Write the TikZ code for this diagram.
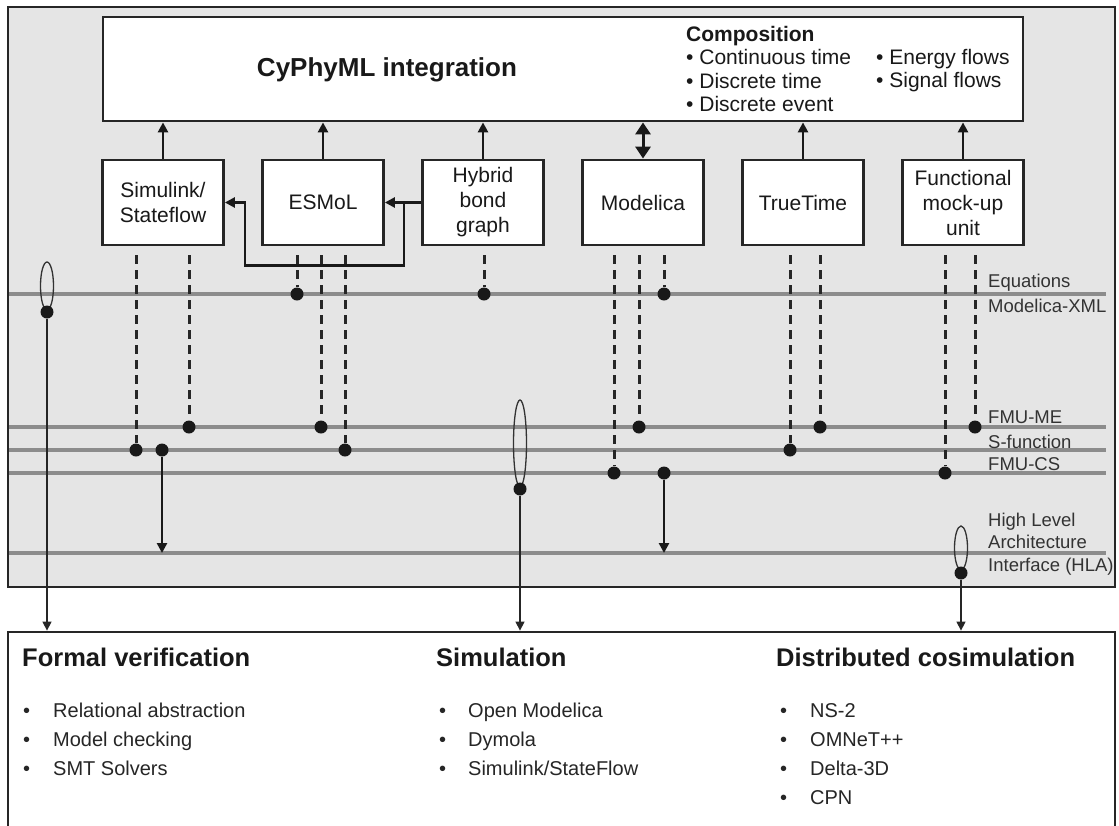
\documentclass[tikz,border=0pt]{standalone}
\usepackage{fontspec}
\setmainfont{Liberation Sans}
\usetikzlibrary{shapes.geometric, arrows.meta, calc}

\begin{document}
\begin{tikzpicture}[
    x=1pt, y=-1pt,
    frame/.style={rectangle, draw=black!85, line width=2.5pt, fill=black!10, inner sep=0},
    mainbox/.style={rectangle, draw=black!85, line width=2.8pt, fill=white, inner sep=0},
    toolbox/.style={rectangle, draw=black!85, line width=2.8pt, fill=white, minimum width=121pt, minimum height=85pt, align=center, inner sep=0, text=black!90, font=\fontsize{21}{25}\selectfont},
    bus/.style={draw=black!45, line width=3.5pt},
    buslabel/.style={anchor=base west, inner sep=0, text=black!80, font=\fontsize{18.5}{22}\selectfont},
    dot/.style={circle, fill=black!90, inner sep=0, minimum size=13pt},
    port/.style={draw=black!85, line width=3pt, dash pattern=on 9pt off 6pt, shorten <=9pt},
    flow/.style={draw=black!90, line width=2.5pt, -{Triangle[length=10pt, width=10pt]}},
    tap/.style={draw=black!85, line width=1.3pt, -{Triangle[length=9pt, width=9pt]}},
    bundle/.style={ellipse, draw=black!80, line width=1.3pt, inner sep=0, minimum width=13pt},
    heading/.style={anchor=base west, inner sep=0, text=black!90, font=\bfseries\fontsize{25.5}{30}\selectfont},
    item/.style={anchor=base west, inner sep=0, text=black!85, font=\fontsize{20}{24}\selectfont}
]
    \useasboundingbox (0,0) rectangle (1119,825);

    % integration frame and the two boxes
    \node[frame, minimum width=1107pt, minimum height=580pt] (frame) at (561.5,297) {};
    \node[mainbox, minimum width=920pt, minimum height=104pt] (cyphy) at (563,69) {};
    \node[mainbox, minimum width=1107pt, minimum height=208pt] (results) at (561.5,736) {};

    \node[inner sep=0, text=black!90, font=\bfseries\fontsize{26}{30}\selectfont] (title) at (387,70) {CyPhyML integration};
    \node[anchor=north west, align=left, inner sep=0, text=black!90, font=\fontsize{21}{23.5}\selectfont] (comp) at (686,26)
        {\textbf{Composition}\\• Continuous time\\• Discrete time\\• Discrete event};
    \node[anchor=north west, align=left, inner sep=0, text=black!90, font=\fontsize{21}{23.5}\selectfont] (flows) at (876,49)
        {• Energy flows\\• Signal flows};

    % modelling tools
    \node[toolbox] (sim) at (163,202.5) {Simulink/\\Stateflow};
    \node[toolbox] (esmol) at (323,202.5) {ESMoL};
    \node[toolbox] (hbg) at (483,202.5) {Hybrid\\bond\\graph};
    \node[toolbox] (modelica) at (643,202.5) {Modelica};
    \node[toolbox] (truetime) at (803,202.5) {TrueTime};
    \node[toolbox] (fmu) at (963,202.5) {Functional\\mock-up\\unit};

    \foreach \b in {sim, esmol, hbg, truetime, fmu}
        \draw[flow] (\b) -- (\b |- cyphy.south);
    \draw[draw=black!90, line width=3pt, {Triangle[length=12pt, width=15pt]}-{Triangle[length=12pt, width=15pt]}]
        (modelica.north) -- (modelica.north |- cyphy.south);

    \coordinate (fork) at ($(hbg.west)+(-17,0)$);
    \draw[flow] (hbg.west) -- (esmol.east);
    \draw[flow] (fork) -- ++(0,63) -| ($(sim.east)+(20,0)$) -- (sim.east);

    % interface buses
    \foreach \n/\y in {eq/294, me/427, sf/450, cs/473, hla/553} {
        \coordinate (\n-l) at (9,\y);
        \coordinate (\n-r) at (1106,\y);
        \draw[bus] (\n-l) -- (\n-r);
    }
    \node[buslabel] (eqlab) at (988,287) {Equations};
    \node[buslabel] (xmllab) at (988,312) {Modelica-XML};
    \node[buslabel] (melab) at (988,423) {FMU-ME};
    \node[buslabel] (sflab) at (988,448) {S-function};
    \node[buslabel] (cslab) at (988,470) {FMU-CS};
    \node[buslabel] (hlalab1) at (988,526) {High Level};
    \node[buslabel] (hlalab2) at (988,548.5) {Architecture};
    \node[buslabel] (hlalab3) at (988,571) {Interface (HLA)};

    % connection points
    \foreach \n/\x in {e1/297, e2/484, e3/664}
        \node[dot] (\n) at (\x,294) {};
    \foreach \n/\x in {m1/189, m2/321, m3/639, m4/820, m5/975}
        \node[dot] (\n) at (\x,427) {};
    \foreach \n/\x in {s1/136, s2/162, s3/345, s4/790}
        \node[dot] (\n) at (\x,450) {};
    \foreach \n/\x in {c1/614, c2/664, c3/945}
        \node[dot] (\n) at (\x,473) {};

    \foreach \b/\d in {sim/s1, sim/m1, esmol/e1, esmol/m2, esmol/s3, hbg/e2, modelica/c1, modelica/m3,
                       modelica/e3, truetime/s4, truetime/m4, fmu/c3, fmu/m5}
        \draw[port] (\b.south -| \d) -- (\d);

    \draw[flow] (s2) -- (s2 |- hla-l);
    \draw[flow] (c2) -- (c2 |- hla-l);

    % bundles towards the analysis tools
    \node[bundle, minimum height=48pt] (bnd1) at (47,286) {};
    \node[bundle, minimum height=87pt] (bnd2) at (520,443.5) {};
    \node[bundle, minimum height=44pt] (bnd3) at (961,548) {};
    \node[dot] (t1) at (47,312) {};
    \node[dot] (t2) at (520,489) {};
    \node[dot] (t3) at (961,573) {};
    \foreach \t in {t1, t2, t3}
        \draw[tap] (\t) -- (\t |- results.north);

    % analysis tools
    \node[heading] (fvhead) at (22,666) {Formal verification};
    \node[heading] (simhead) at (436,666) {Simulation};
    \node[heading] (dchead) at (776,666) {Distributed cosimulation};
    \foreach \t [count=\i] in {Relational abstraction, Model checking, SMT Solvers} {
        \node[item] (fvb\i) at (23,688+29*\i) {•};
        \node[item] (fv\i) at (53,688+29*\i) {\t};
    }
    \foreach \t [count=\i] in {Open Modelica, Dymola, Simulink/StateFlow} {
        \node[item] (simb\i) at (439,688+29*\i) {•};
        \node[item] (sim\i) at (468,688+29*\i) {\t};
    }
    \foreach \t [count=\i] in {NS-2, OMNeT++, Delta-3D, CPN} {
        \node[item] (dcb\i) at (780,688+29*\i) {•};
        \node[item] (dc\i) at (810,688+29*\i) {\t};
    }
\end{tikzpicture}
\end{document}
